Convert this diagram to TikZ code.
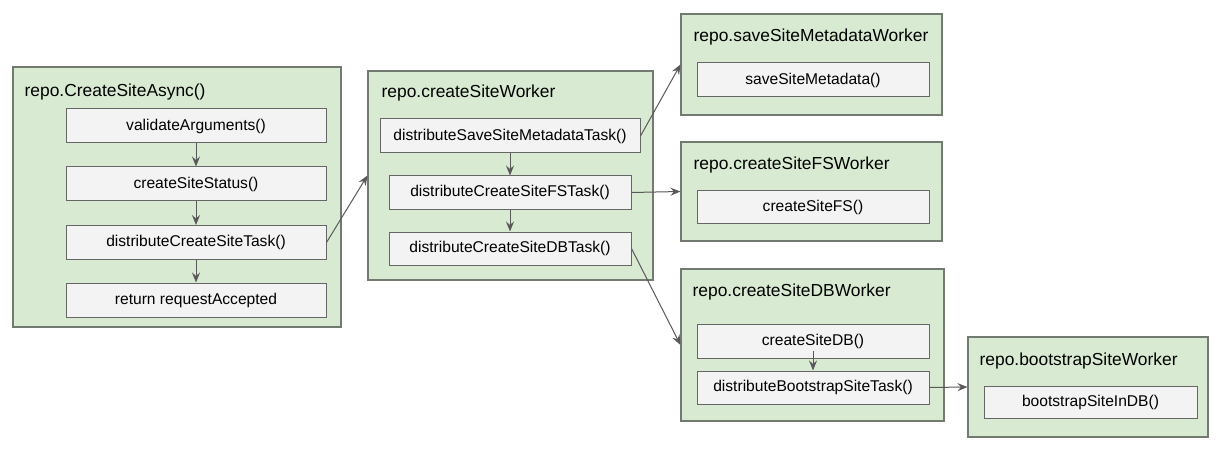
\documentclass[tikz,border=0pt]{standalone}
\usepackage{fontspec}
\setmainfont{Liberation Sans}
\usepackage{xcolor}
\usepackage{tikz}
\usetikzlibrary{arrows.meta, positioning}

\definecolor{workerfill}{HTML}{D9EAD3}
\definecolor{workerline}{HTML}{737A70}
\definecolor{callfill}{HTML}{F3F3F3}
\definecolor{callline}{HTML}{666666}
\definecolor{flowline}{HTML}{595959}

\begin{document}
\begin{tikzpicture}[x=1pt, y=-1pt, >={Stealth[length=10pt, width=8pt, inset=3.5pt]},
    worker/.style={draw=workerline, fill=workerfill, line width=1.1pt},
    callbox/.style={draw=callline, fill=callfill, line width=1pt, minimum height=34,
        inner sep=0pt, font=\fontsize{15.6}{18}\selectfont},
    wtitle/.style={anchor=west, inner sep=0pt, font=\fontsize{17.4}{20}\selectfont},
    flow/.style={->, draw=flowline, line width=1pt}]
    \useasboundingbox (0,0) rectangle (1220,449);

    % Các khối worker
    \node[worker, minimum width=328, minimum height=260] (w1) at (177,197) {};
    \node[worker, minimum width=285, minimum height=209] (w2) at (510.5,175.5) {};
    \node[worker, minimum width=261, minimum height=101] (w3) at (811.5,64.5) {};
    \node[worker, minimum width=261, minimum height=99] (w4) at (811.5,191.5) {};
    \node[worker, minimum width=263, minimum height=152] (w5) at (812.5,345) {};
    \node[worker, minimum width=240, minimum height=100] (w6) at (1088,387) {};

    % Tiêu đề
    \node[wtitle] (t1) at ([shift={(12,26)}]w1.north west) {repo.CreateSiteAsync()};
    \node[wtitle] (t2) at ([shift={(14,23)}]w2.north west) {repo.createSiteWorker};
    \node[wtitle] (t3) at ([shift={(13,24)}]w3.north west) {repo.saveSiteMetadataWorker};
    \node[wtitle] (t4) at ([shift={(13,24)}]w4.north west) {repo.createSiteFSWorker};
    \node[wtitle] (t5) at ([shift={(12,24)}]w5.north west) {repo.createSiteDBWorker};
    \node[wtitle] (t6) at ([shift={(12,25)}]w6.north west) {repo.bootstrapSiteWorker};

    % Các bước bên trong
    \node[callbox, minimum width=260] (c1) at (196,126) {validateArguments()};
    \node[callbox, minimum width=260] (c2) at (196,184) {createSiteStatus()};
    \node[callbox, minimum width=260] (c3) at (196,242.5) {distributeCreateSiteTask()};
    \node[callbox, minimum width=260] (c4) at (196,300) {return requestAccepted};

    \node[callbox, minimum width=260] (s1) at (510,136) {distributeSaveSiteMetadataTask()};
    \node[callbox, minimum width=242, minimum height=33] (s2) at (510,192.5) {distributeCreateSiteFSTask()};
    \node[callbox, minimum width=242, minimum height=33] (s3) at (510,248.5) {distributeCreateSiteDBTask()};

    \node[callbox, minimum width=232] (m1) at (813,80) {saveSiteMetadata()};
    \node[callbox, minimum width=232, minimum height=32] (f1) at (813,207) {createSiteFS()};
    \node[callbox, minimum width=232] (d1) at (813,341) {createSiteDB()};
    \node[callbox, minimum width=232, minimum height=33] (d2) at (813,387.5) {distributeBootstrapSiteTask()};
    \node[callbox, minimum width=213, minimum height=32] (b1) at (1090.5,402) {bootstrapSiteInDB()};

    % Mũi tên
    \foreach \a/\b in {c1/c2, c2/c3, c3/c4, s1/s2, s2/s3} {
        \draw[flow] (\a.south) -- (\b.north);
    }
    \draw[flow] ([yshift=8pt]d1.south) -- (d2.north);
    \draw[flow] (c3.east) -- (w2.west);
    \draw[flow] (s1.east) -- (w3.west);
    \draw[flow] (s2.east) -- (w4.west);
    \draw[flow] (s3.east) -- (w5.west);
    \draw[flow] (d2.east) -- (w6.west);
\end{tikzpicture}
\end{document}
